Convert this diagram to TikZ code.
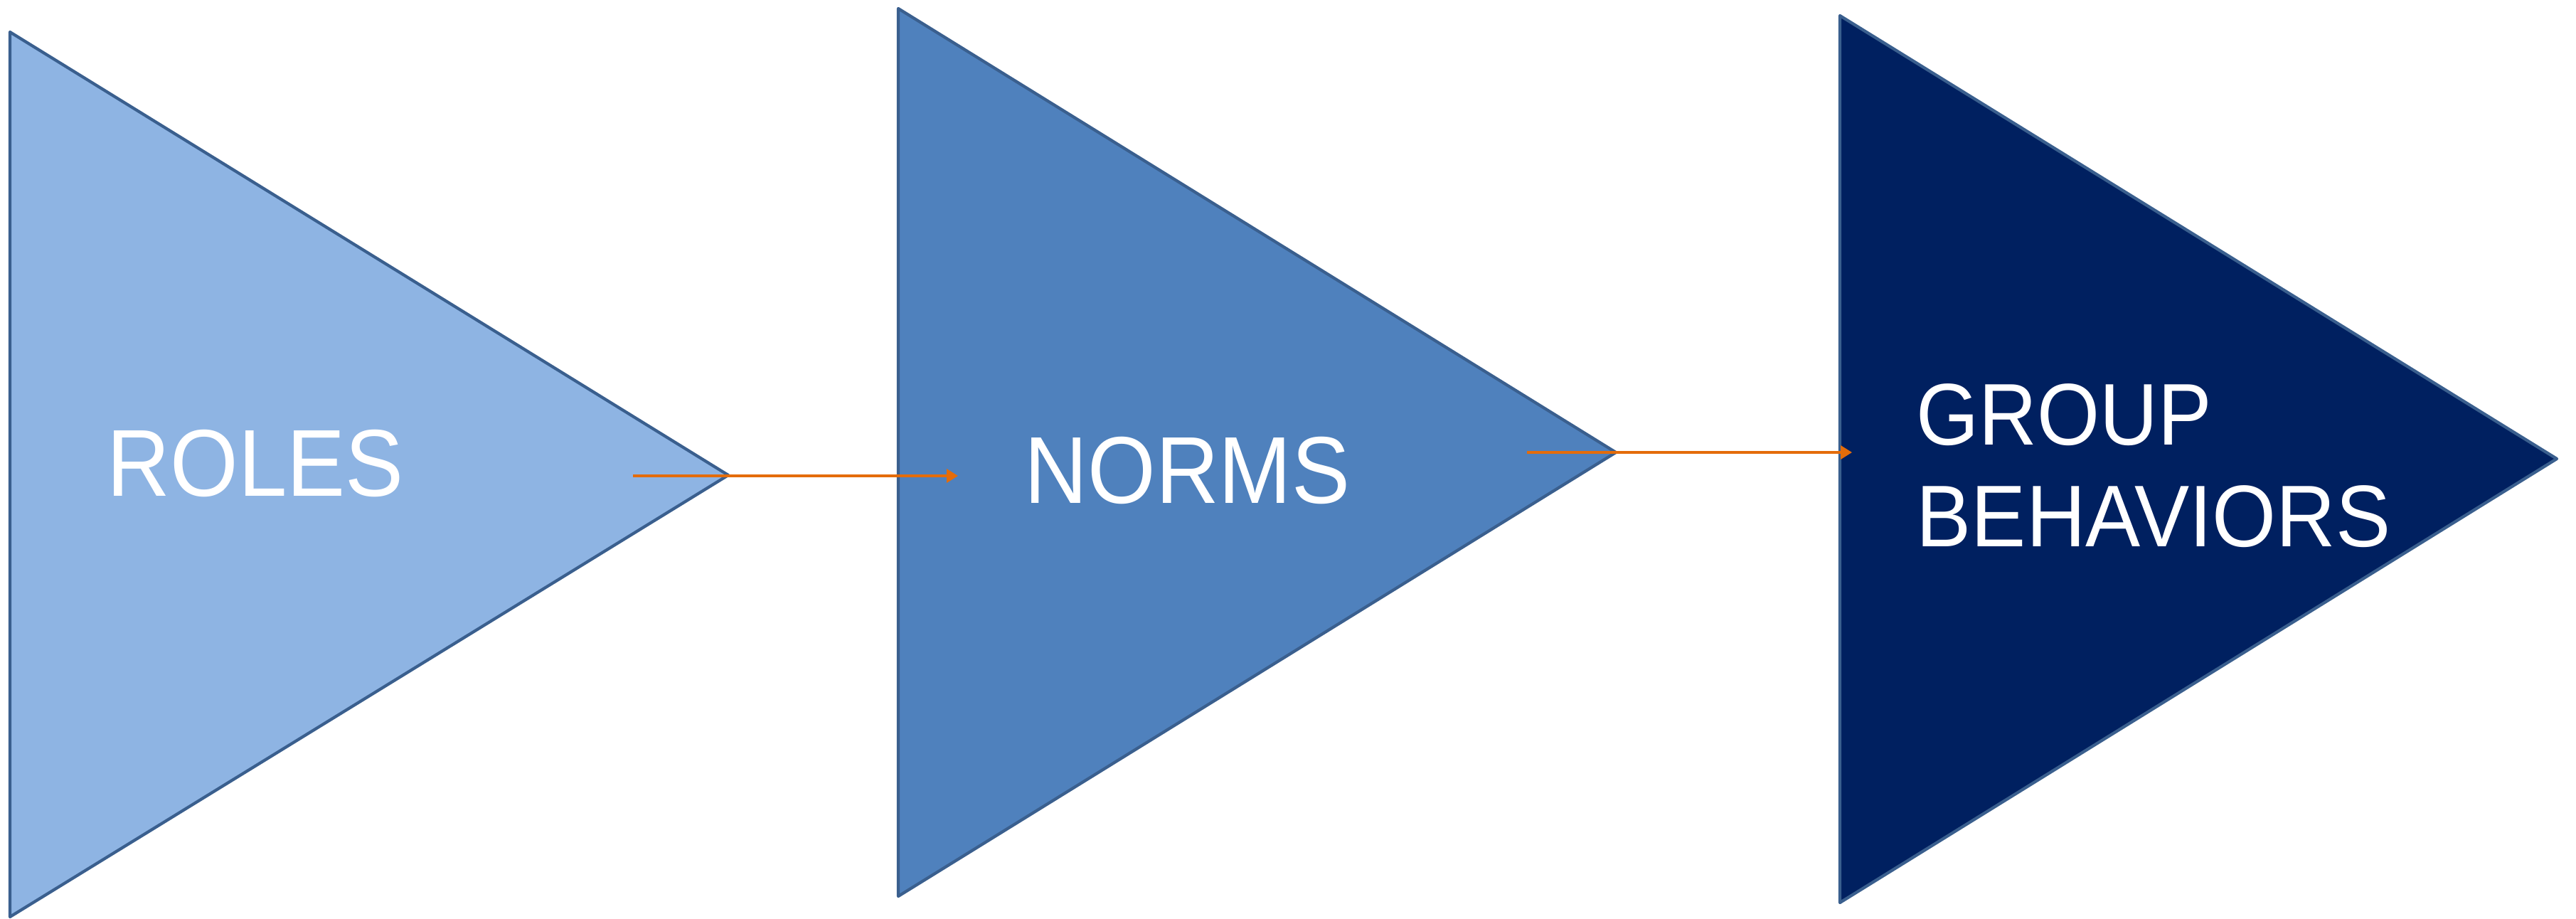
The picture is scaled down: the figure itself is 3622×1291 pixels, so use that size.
\documentclass[tikz,border=0pt]{standalone}
\usepackage{fontspec}
\usepackage{graphicx}
\usepackage{tikz}
\usetikzlibrary{arrows.meta,positioning}
\setmainfont{Liberation Sans}
\newcommand{\narrowtext}[1]{\scalebox{0.92}[1]{#1}}

\definecolor{rolesblue}{HTML}{8EB4E3}
\definecolor{normsblue}{HTML}{4F81BD}
\definecolor{groupblue}{HTML}{002060}
\definecolor{edgeblue}{HTML}{3A5F8E}
\definecolor{linkorange}{HTML}{E46C0A}

\tikzset{
  wedge/.style={draw=edgeblue, line width=1.2pt, line join=round},
  wedgelabel/.style={text=white, inner sep=0pt, anchor=base west, font=\fontsize{38}{46}\selectfont},
  link/.style={draw=linkorange, line width=1pt, -{Triangle[length=0.16cm,width=0.19cm]}}
}

\begin{document}
\begin{tikzpicture}[x=0.01cm, y=-0.01cm]
    \useasboundingbox (0,0) rectangle (3622,1291);

    % Triangles
    \filldraw[wedge, fill=rolesblue] (14,45) -- (1024,668) -- (14,1289) -- cycle;
    \filldraw[wedge, fill=normsblue] (1263,12) -- (2272,636) -- (1263,1260) -- cycle;
    \filldraw[wedge, fill=groupblue] (2587,22) -- (3595,645) -- (2587,1269) -- cycle;

    % Labels
    \node[wedgelabel] (roles) at (150,697) {\narrowtext{ROLES}};
    \node[wedgelabel] (norms) at (1440,707) {\narrowtext{NORMS}};
    \node[wedgelabel, font=\fontsize{35}{42}\selectfont] (group) at (2694,625) {\narrowtext{GROUP}};
    \node[wedgelabel, font=\fontsize{35}{42}\selectfont, yshift=-1.43cm] (behaviors) at (group.base west) {\scalebox{0.94}[1]{BEHAVIORS}};

    % Arrow ends
    \coordinate (rolesout) at (890,669);
    \coordinate (normsin) at (1347,669);
    \coordinate (normsout) at (2147,636);
    \coordinate (groupin) at (2604,636);

    % Connect the stages
    \draw[link] (rolesout) -- (normsin);
    \draw[link] (normsout) -- (groupin);
\end{tikzpicture}
\end{document}
